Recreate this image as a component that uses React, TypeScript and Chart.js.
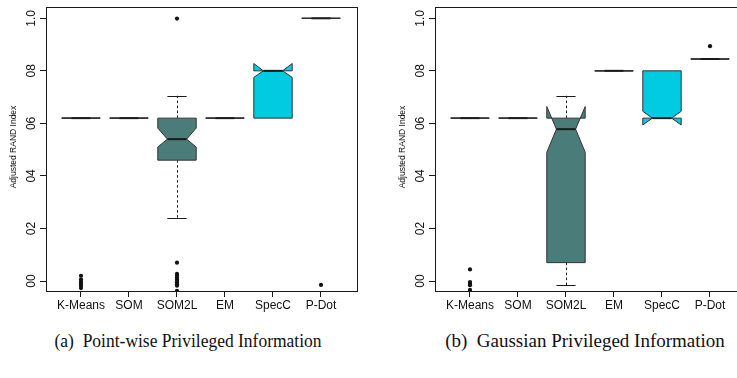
import React, { useEffect, useRef } from "react";
import { Chart, registerables } from "chart.js";

Chart.register(...registerables);

const categories = ["K-Means", "SOM", "SOM2L", "EM", "SpecC", "P-Dot"];
const yTickValues = [0, 0.2, 0.4, 0.6, 0.8, 1.0];
const yTickLabels = ["00", "02", "04", "06", "08", "1.0"];
const boxFills = ["#ffffff", "#ffffff", "#4a7c7a", "#ffffff", "#00cbe0", "#ffffff"];

// Panel (a): Point-wise Privileged Information
const aLowWhisker = [0.62, 0.62, 0.24, 0.62, 0.62, 1.0];
const aQ1 = [0.62, 0.62, 0.46, 0.62, 0.62, 1.0];
const aMedian = [0.62, 0.62, 0.54, 0.62, 0.8, 1.0];
const aQ3 = [0.62, 0.62, 0.62, 0.62, 0.8, 1.0];
const aHighWhisker = [0.62, 0.62, 0.705, 0.62, 0.8, 1.0];
const aNotchLow = [0.62, 0.62, 0.51, 0.62, 0.775, 1.0];
const aNotchHigh = [0.62, 0.62, 0.582, 0.62, 0.828, 1.0];
const aOutliers = [
  [0.02, 0.006, -0.003, -0.01, -0.018, -0.027],
  [],
  [0.999, 0.07, 0.027, 0.02, 0.013, 0.006, 0.0, -0.006, -0.012, -0.018, -0.037],
  [],
  [],
  [-0.015],
];

// Panel (b): Gaussian Privileged Information
const bLowWhisker = [0.62, 0.62, -0.015, 0.8, 0.62, 0.845];
const bQ1 = [0.62, 0.62, 0.07, 0.8, 0.62, 0.845];
const bMedian = [0.62, 0.62, 0.578, 0.8, 0.62, 0.845];
const bQ3 = [0.62, 0.62, 0.62, 0.8, 0.8, 0.845];
const bHighWhisker = [0.62, 0.62, 0.705, 0.8, 0.8, 0.845];
const bNotchLow = [0.62, 0.62, 0.49, 0.8, 0.594, 0.845];
const bNotchHigh = [0.62, 0.62, 0.664, 0.8, 0.646, 0.845];
const bOutliers = [
  [0.044, -0.004, -0.01, -0.016, -0.034],
  [],
  [],
  [],
  [],
  [0.894],
];

type Stats = {
  lw: number[]; q1: number[]; med: number[]; q3: number[]; hw: number[];
  nlo: number[]; nhi: number[]; out: number[][];
};

const panelA: Stats = { lw: aLowWhisker, q1: aQ1, med: aMedian, q3: aQ3, hw: aHighWhisker, nlo: aNotchLow, nhi: aNotchHigh, out: aOutliers };
const panelB: Stats = { lw: bLowWhisker, q1: bQ1, med: bMedian, q3: bQ3, hw: bHighWhisker, nlo: bNotchLow, nhi: bNotchHigh, out: bOutliers };

const INK = "#1a1a1a";

function makeBoxPlugin(s: Stats) {
  return {
    id: "boxes",
    beforeDatasetsDraw(chart: any) {
      const ctx = chart.ctx;
      const xs = chart.scales.x;
      const ys = chart.scales.y;
      const Y = (v: number) => ys.getPixelForValue(v);
      ctx.save();
      for (let i = 0; i < categories.length; i++) {
        const x = xs.getPixelForValue(i + 1);
        const xc = Math.round(x) + 0.5;
        const h = xs.getPixelForValue(i + 1.4) - x;
        const nf = 0.5;
        // whiskers
        ctx.strokeStyle = INK;
        ctx.lineWidth = 1;
        if (s.hw[i] > s.q3[i]) {
          ctx.setLineDash([2.5, 2.5]);
          ctx.beginPath();
          ctx.moveTo(xc, Y(s.q3[i]));
          ctx.lineTo(xc, Y(s.hw[i]));
          ctx.stroke();
          ctx.setLineDash([]);
          ctx.beginPath();
          ctx.moveTo(x - h / 2, Math.round(Y(s.hw[i])) + 0.5);
          ctx.lineTo(x + h / 2, Math.round(Y(s.hw[i])) + 0.5);
          ctx.stroke();
        }
        if (s.lw[i] < s.q1[i]) {
          ctx.setLineDash([2.5, 2.5]);
          ctx.beginPath();
          ctx.moveTo(xc, Y(s.q1[i]));
          ctx.lineTo(xc, Y(s.lw[i]));
          ctx.stroke();
          ctx.setLineDash([]);
          ctx.beginPath();
          ctx.moveTo(x - h / 2, Math.round(Y(s.lw[i])) + 0.5);
          ctx.lineTo(x + h / 2, Math.round(Y(s.lw[i])) + 0.5);
          ctx.stroke();
        }
        // notched box polygon (R style)
        const xx = [-1, 1, 1, nf, 1, 1, -1, -1, -nf, -1].map((f) => x + h * f);
        const yy = [s.q1[i], s.q1[i], s.nlo[i], s.med[i], s.nhi[i], s.q3[i], s.q3[i], s.nhi[i], s.med[i], s.nlo[i]].map(Y);
        ctx.beginPath();
        ctx.moveTo(xx[0], yy[0]);
        for (let k = 1; k < xx.length; k++) ctx.lineTo(xx[k], yy[k]);
        ctx.closePath();
        ctx.fillStyle = boxFills[i];
        ctx.fill();
        ctx.strokeStyle = "#333333";
        ctx.lineWidth = 1;
        ctx.stroke();
        // median
        ctx.strokeStyle = INK;
        ctx.lineWidth = 2;
        ctx.beginPath();
        ctx.moveTo(x - h * nf, Y(s.med[i]));
        ctx.lineTo(x + h * nf, Y(s.med[i]));
        ctx.stroke();
      }
      ctx.restore();
    },
    afterDraw(chart: any) {
      const ctx = chart.ctx;
      const a = chart.chartArea;
      const ys = chart.scales.y;
      ctx.save();
      ctx.strokeStyle = INK;
      ctx.lineWidth = 1;
      ctx.strokeRect(Math.round(a.left) + 0.5, Math.round(a.top) + 0.5, a.right - a.left, a.bottom - a.top);
      // rotated y tick labels
      ctx.fillStyle = "#111";
      ctx.font = "12px 'Liberation Sans', Arial, sans-serif";
      ctx.textAlign = "center";
      ctx.textBaseline = "middle";
      yTickValues.forEach((v, k) => {
        const py = ys.getPixelForValue(v);
        ctx.save();
        ctx.translate(31.5, py);
        ctx.rotate(-Math.PI / 2);
        ctx.fillText(yTickLabels[k], 0, 0);
        ctx.restore();
      });
      // axis title
      ctx.font = "8.5px 'Liberation Sans', Arial, sans-serif";
      ctx.save();
      ctx.translate(14, (a.top + a.bottom) / 2 - 2);
      ctx.rotate(-Math.PI / 2);
      ctx.fillText("Adjusted RAND Index", 0, 0);
      ctx.restore();
      ctx.restore();
    },
  };
}

function BoxPanel({ stats }: { stats: Stats }) {
  const ref = useRef<HTMLCanvasElement | null>(null);
  useEffect(() => {
    if (!ref.current) return;
    const points: { x: number; y: number }[] = [];
    stats.out.forEach((arr, i) => arr.forEach((v) => points.push({ x: i + 1, y: v })));
    const chart = new Chart(ref.current, {
      type: "scatter",
      data: {
        datasets: [
          {
            data: points,
            pointRadius: 2.1,
            pointHoverRadius: 2.1,
            backgroundColor: "#111",
            borderWidth: 0,
          },
        ],
      },
      options: {
        animation: false,
        responsive: false,
        events: [],
        layout: { padding: { left: 0, right: 13, top: 7, bottom: 0 } },
        plugins: { legend: { display: false }, tooltip: { enabled: false } },
        scales: {
          x: {
            type: "linear",
            min: 0.271,
            max: 6.75,
            afterBuildTicks: (sc: any) => {
              sc.ticks = categories.map((_, i) => ({ value: i + 1 }));
            },
            afterFit: (sc: any) => {
              sc.height = 29;
            },
            grid: { display: true, drawOnChartArea: false, drawTicks: true, tickLength: 6, color: INK },
            border: { display: true, color: INK },
            ticks: {
              autoSkip: false,
              maxRotation: 0,
              minRotation: 0,
              padding: 1,
              color: "#111",
              font: { family: "'Liberation Sans', Arial, sans-serif", size: 12 },
              callback: (v: any) => categories[Math.round(Number(v)) - 1] ?? "",
            },
          },
          y: {
            type: "linear",
            min: -0.038,
            max: 1.043,
            afterBuildTicks: (sc: any) => {
              sc.ticks = yTickValues.map((v) => ({ value: v }));
            },
            afterFit: (sc: any) => {
              sc.width = 46;
            },
            grid: { display: true, drawOnChartArea: false, drawTicks: true, tickLength: 6, color: INK },
            border: { display: true, color: INK },
            ticks: { display: false },
          },
        },
      },
      plugins: [makeBoxPlugin(stats)],
    } as any);
    return () => chart.destroy();
  }, [stats]);
  return <canvas ref={ref} width={370} height={320} style={{ width: 370, height: 320, display: "block" }} />;
}

export default function App() {
  const caption: React.CSSProperties = {
    position: "absolute",
    top: 329,
    fontFamily: "'Liberation Serif', 'Times New Roman', serif",
    fontSize: 19,
    lineHeight: "24px",
    color: "#111",
    whiteSpace: "pre",
    textAlign: "center",
    width: 370,
    transformOrigin: "center",
  };
  return (
    <div style={{ position: "fixed", left: 0, top: 0, width: 737, height: 378, overflow: "hidden", background: "#fff" }}>
      <div style={{ position: "absolute", left: 0, top: 0 }}>
        <BoxPanel stats={panelA} />
      </div>
      <div style={{ position: "absolute", left: 389, top: 0 }}>
        <BoxPanel stats={panelB} />
      </div>
      <div style={{ ...caption, left: 188 - 185, transform: "scaleX(0.92)" }}>{"(a)  Point-wise Privileged Information"}</div>
      <div style={{ ...caption, left: 585 - 185, transform: "scaleX(1.0)" }}>{"(b)  Gaussian Privileged Information"}</div>
    </div>
  );
}
